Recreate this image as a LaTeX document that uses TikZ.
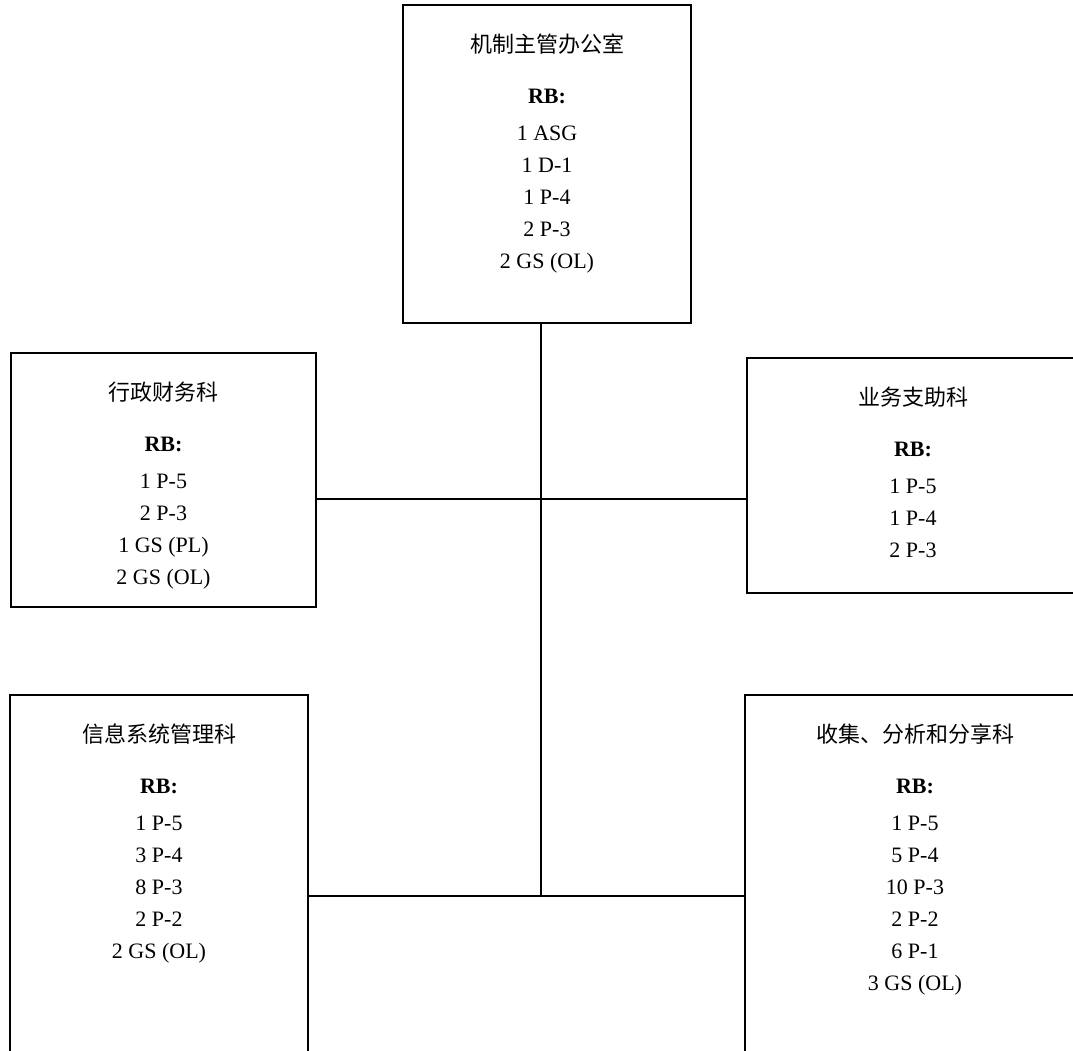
\documentclass[tikz,border=0pt]{standalone}
\usepackage{fontspec}
\setmainfont{Liberation Serif}
\newfontfamily\cjk{Noto Sans CJK SC}
\usetikzlibrary{positioning}

\tikzstyle{unit}=[draw,line width=1.3pt,inner sep=0pt]
\tikzstyle{staff}=[align=center,inner sep=0pt,font=\fontsize{22}{32}\selectfont]
\tikzstyle{link} = [draw,line width=1.3pt,-]

\begin{document}
\begin{tikzpicture}[x=1pt,y=-1pt]
  \clip (0,0) rectangle (1073,1051);
  % First we draw the boxes
  \foreach \pos/\name/\w/\h in {{(547,164)/admin/288/318}, {(163.5,480)/finance/305/254}, {(913,475.5)/support/332/235}, {(159,900)/infosys/298/410}, {(915,900)/collect/340/410}}
    \node[unit, minimum width=\w pt, minimum height=\h pt] (\name) at \pos {};
  % Then the texts inside them
  \foreach \name/\title/\list in {admin/机制主管办公室/{1 ASG\\1 D-1\\1 P-4\\2 P-3\\2 GS (OL)}, finance/行政财务科/{1 P-5\\2 P-3\\1 GS (PL)\\2 GS (OL)}, support/业务支助科/{1 P-5\\1 P-4\\2 P-3}, infosys/信息系统管理科/{1 P-5\\3 P-4\\8 P-3\\2 P-2\\2 GS (OL)}, collect/收集、分析和分享科/{1 P-5\\5 P-4\\10 P-3\\2 P-2\\6 P-1\\3 GS (OL)}}
    \node[staff, below=29pt of \name.north] (\name-text) {{\cjk\fontsize{22}{32}\selectfont \title}\\[19pt]\textbf{RB:}\\[5pt]\list};
  % Connect boxes with lines
  \coordinate (hub) at (541,499);
  \coordinate (foot) at (541,896);
  \path[link] (admin.south -| hub) -- (foot);
  \path[link] (finance.east |- hub) -- (support.west |- hub);
  \path[link] (infosys.east |- foot) -- (collect.west |- foot);
\end{tikzpicture}
\end{document}
